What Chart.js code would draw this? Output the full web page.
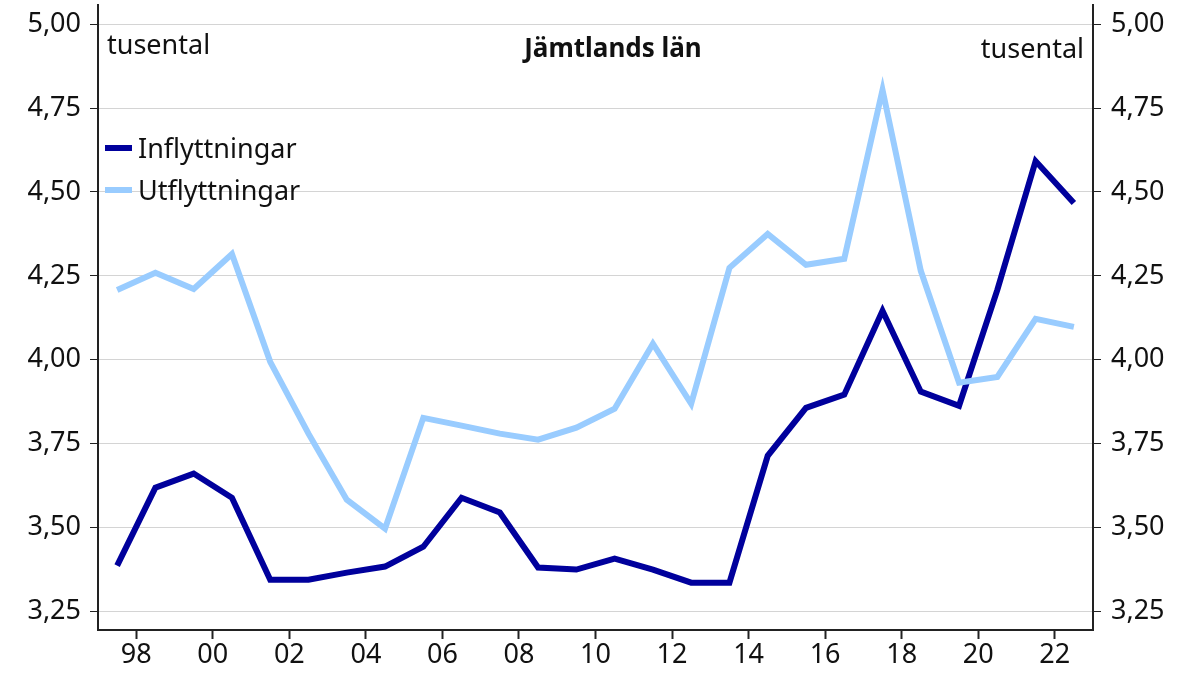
<!DOCTYPE html>
<html>
<head>
<meta charset="utf-8">
<script src="https://cdn.jsdelivr.net/npm/chart.js@4"></script>
<style>
  html, body { margin: 0; padding: 0; background: #fff; }
  #wrap { width: 1194px; height: 676px; }
</style>
</head>
<body>
<div id="wrap"><canvas id="chart" width="1194" height="676"></canvas></div>
<script>
const years = [1997,1998,1999,2000,2001,2002,2003,2004,2005,2006,2007,2008,2009,
    2010,2011,2012,2013,2014,2015,2016,2017,2018,2019,2020,2021,2022];

const inflyttningar = [3.387,3.619,3.661,3.589,3.345,3.345,3.366,3.384,3.443,3.589,3.545,3.381,3.375,
    3.408,3.375,3.336,3.336,3.714,3.857,3.896,4.146,3.905,3.863,4.208,4.592,4.467];

const utflyttningar = [4.208,4.259,4.211,4.315,3.994,3.780,3.583,3.497,3.827,3.804,3.780,3.762,3.798,
    3.854,4.048,3.869,4.274,4.375,4.283,4.301,4.804,4.265,3.932,3.949,4.122,4.098];

const yTicks = [3.25,3.50,3.75,4.00,4.25,4.50,4.75,5.00];
const xTicks = [1998,2000,2002,2004,2006,2008,2010,2012,2014,2016,2018,2020,2022];

const FONT = "'Noto Sans', sans-serif";
const DARK = "#00009c";
const LIGHT = "#99ccff";

// points sit in the middle of each year
const toPoints = arr => arr.map((v, i) => ({x: years[i] + 0.5, y: v}));

// title, unit labels and legend drawn inside the plot
const overlay = {
    id: "overlay",
    afterDraw(chart) {
        const ctx = chart.ctx;
        ctx.save();
        ctx.fillStyle = "#111";
        ctx.textBaseline = "alphabetic";

        ctx.font = "27px " + FONT;
        ctx.textAlign = "left";
        ctx.fillText("tusental", 107, 54);
        ctx.textAlign = "right";
        ctx.fillText("tusental", 1084, 58);

        ctx.font = "bold 26px " + FONT;
        ctx.textAlign = "center";
        ctx.fillText("Jämtlands län", 613, 57);

        ctx.font = "27px " + FONT;
        ctx.textAlign = "left";
        const items = [["Inflyttningar", DARK, 148], ["Utflyttningar", LIGHT, 190]];
        items.forEach(([label, color, y]) => {
            ctx.fillStyle = color;
            ctx.fillRect(105, y - 3, 27, 6);
            ctx.fillStyle = "#111";
            ctx.fillText(label, 138, y + 10);
        });
        ctx.restore();
    }
};

const fixTicks = list => scale => { scale.ticks = list.map(v => ({value: v})); };

// fixed axis sizes, no extra room for overhanging labels
const fitY = w => s => { s.width = w; s.paddingTop = 0; s.paddingBottom = 0; };
const fitX = h => s => { s.height = h; s.paddingLeft = 0; s.paddingRight = 0; };

new Chart(document.getElementById("chart"), {
    type: "line",
    data: {
        datasets: [
            {
                label: "Utflyttningar",
                data: toPoints(utflyttningar),
                borderColor: LIGHT,
                borderWidth: 6,
                pointRadius: 0,
                tension: 0,
                yAxisID: "y"
            },
            {
                label: "Inflyttningar",
                data: toPoints(inflyttningar),
                borderColor: DARK,
                borderWidth: 6,
                pointRadius: 0,
                tension: 0,
                yAxisID: "y"
            }
        ]
    },
    options: {
        responsive: false,
        animation: false,
        layout: { padding: { top: 5, left: 0, right: 0, bottom: 0 } },
        plugins: {
            legend: { display: false },
            tooltip: { enabled: false }
        },
        scales: {
            x: {
                type: "linear",
                min: 1997,
                max: 2023,
                afterBuildTicks: fixTicks(xTicks),
                afterFit: fitX(46),
                border: { display: true, color: "#222", width: 2 },
                grid: { drawOnChartArea: false, tickLength: 9, tickColor: "#222", tickWidth: 2 },
                ticks: {
                    color: "#111",
                    font: { family: FONT, size: 27 },
                    padding: 0,
                    maxRotation: 0,
                    callback: v => String(v % 100).padStart(2, "0")
                }
            },
            y: {
                position: "left",
                min: 3.195,
                max: 5.057,
                afterBuildTicks: fixTicks(yTicks),
                afterFit: fitY(98),
                border: { display: true, color: "#222", width: 2 },
                grid: { color: "#d4d4d4", lineWidth: 1, tickLength: 8, tickColor: "#222", tickWidth: 1 },
                ticks: {
                    color: "#111",
                    font: { family: FONT, size: 27 },
                    padding: 9,
                    callback: v => v.toFixed(2).replace(".", ",")
                }
            },
            y2: {
                position: "right",
                min: 3.195,
                max: 5.057,
                afterBuildTicks: fixTicks(yTicks),
                afterFit: fitY(101),
                border: { display: true, color: "#222", width: 2 },
                grid: { drawOnChartArea: false, tickLength: 8, tickColor: "#222", tickWidth: 1 },
                ticks: {
                    color: "#111",
                    font: { family: FONT, size: 27 },
                    padding: 10,
                    callback: v => v.toFixed(2).replace(".", ",")
                }
            }
        }
    },
    plugins: [overlay]
});
</script>
</body>
</html>
